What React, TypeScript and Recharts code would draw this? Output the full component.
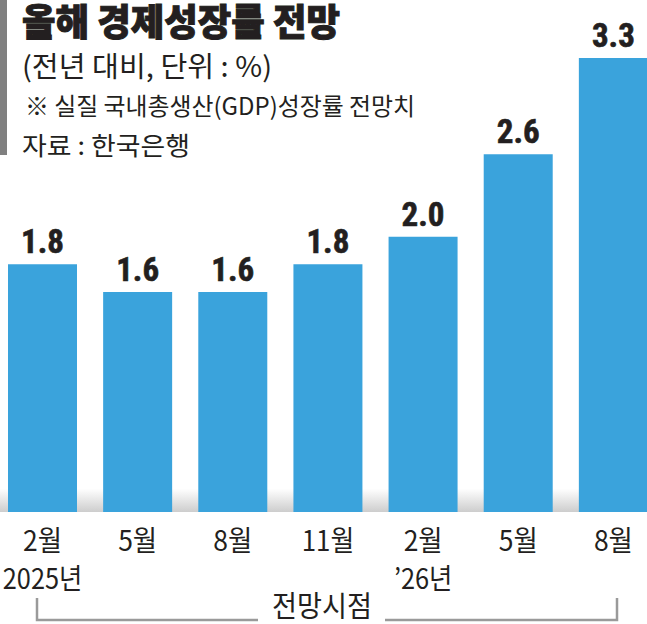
import { BarChart, Bar, XAxis, YAxis, LabelList, ReferenceArea } from "recharts";

const months = ["2월", "5월", "8월", "11월", "2월", "5월", "8월"];
const years = ["2025년", "", "", "", "’26년", "", ""];
const growth = [1.8, 1.6, 1.6, 1.8, 2.0, 2.6, 3.3];

const data = months.map((m, i) => ({ key: i, month: m, year: years[i], value: growth[i] }));

const KR = "'Noto Sans CJK KR', 'Noto Sans', sans-serif";
const NUM = "'Liberation Sans Narrow', 'Roboto Condensed', 'Liberation Sans', sans-serif";
const INK = "#231f20";

// rough width of a label in the reference's narrow gothic face
function narrowWidth(s: string) {
  let w = 0;
  for (const ch of s) {
    if (/[0-9]/.test(ch)) w += 13.5;
    else if (ch === "’") w += 6;
    else w += 25.5;
  }
  return w;
}

function MonthTick({ x, payload }: { x?: number; y?: number; payload?: { index: number } }) {
  const i = payload?.index ?? 0;
  return (
    <g>
      <text x={x} y={551} textAnchor="middle" fontFamily={KR} fontSize={28} fill={INK}
        textLength={narrowWidth(months[i])} lengthAdjust="spacingAndGlyphs">
        {months[i]}
      </text>
      {years[i] && (
        <text x={x} y={589} textAnchor="middle" fontFamily={KR} fontSize={28} fill={INK}
          textLength={narrowWidth(years[i])} lengthAdjust="spacingAndGlyphs">
          {years[i]}
        </text>
      )}
    </g>
  );
}

function ValueLabel(props: { x?: number; y?: number; width?: number; value?: number }) {
  const { x = 0, y = 0, width = 0, value = 0 } = props;
  return (
    <text x={x + width / 2} y={y - 11} textAnchor="middle" fontFamily={NUM} fontWeight={700} fontSize={33}
      fill={INK} stroke={INK} strokeWidth={0.6}>
      {value.toFixed(1)}
    </text>
  );
}

export default function App() {
  return (
    <div style={{ position: "absolute", left: 0, top: 0, width: 647, height: 624, background: "#fff" }}>
      <BarChart width={647} height={624} data={data} margin={{ top: 58, right: -14, left: -5, bottom: 82 }} barSize={69}>
        <defs>
          <linearGradient id="floorShade" x1="0" y1="0" x2="0" y2="1">
            <stop offset="0%" stopColor="#ffffff" />
            <stop offset="100%" stopColor="#cdcdcd" />
          </linearGradient>
        </defs>
        <XAxis dataKey="key" height={30} axisLine={false} tickLine={false} tick={<MonthTick />} interval={0} />
        <YAxis hide domain={[0, 3.3]} />
        <ReferenceArea y1={0} y2={0.17} fill="url(#floorShade)" fillOpacity={1} stroke="none" ifOverflow="visible" />
        <Bar dataKey="value" fill="#3aa3dc" isAnimationActive={false}>
          <LabelList dataKey="value" content={<ValueLabel />} />
        </Bar>

        <rect x={0} y={0} width={7} height={155} fill="#808080" />
        <text x={22} y={36} fontFamily={KR} fontWeight={900} fontSize={37} fill={INK} stroke={INK} strokeWidth={1}
          textLength={318} lengthAdjust="spacingAndGlyphs">
          올해 경제성장률 전망
        </text>
        <text x={22} y={77} fontFamily={KR} fontSize={28} fill={INK} textLength={250} lengthAdjust="spacingAndGlyphs">
          (전년 대비, 단위 : %)
        </text>
        <text x={25} y={115} fontFamily={KR} fontSize={24} fill={INK} textLength={390} lengthAdjust="spacingAndGlyphs">
          ※ 실질 국내총생산(GDP)성장률 전망치
        </text>
        <text x={22} y={155} fontFamily={KR} fontSize={25} fill={INK} textLength={168} lengthAdjust="spacingAndGlyphs">
          자료 : 한국은행
        </text>

        <polyline points="37,598 37,620 258,620" fill="none" stroke="#9a9a9a" strokeWidth={2.5} />
        <polyline points="385,620 617,620 617,598" fill="none" stroke="#9a9a9a" strokeWidth={2.5} />
        <text x={322} y={617} textAnchor="middle" fontFamily={KR} fontSize={29} fill={INK} textLength={100} lengthAdjust="spacingAndGlyphs">
          전망시점
        </text>
      </BarChart>
    </div>
  );
}
